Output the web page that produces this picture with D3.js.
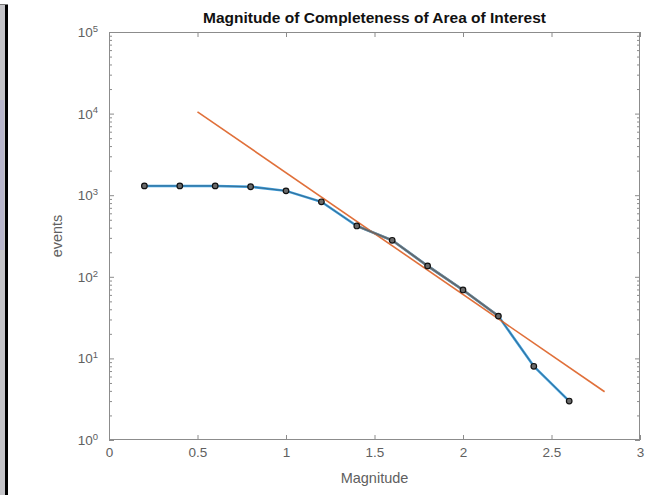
<!DOCTYPE html>
<html><head><meta charset="utf-8">
<script src="https://cdn.jsdelivr.net/npm/d3@7"></script>
<style>
body{margin:0;background:#fff;overflow:hidden}
svg{display:block}
text{font-family:"Liberation Sans",Arial,Helvetica,sans-serif}
</style>
</head><body>
<svg id="chart" width="666" height="495"></svg>
<script>
// ---- data ----
const magnitudes = [0.2, 0.4, 0.6, 0.8, 1.0, 1.2, 1.4, 1.6, 1.8, 2.0, 2.2, 2.4, 2.6];
const events     = [1300, 1300, 1300, 1270, 1130, 830, 420, 280, 136, 69, 33, 8, 3];
const fitMagnitudes = [0.5, 2.8];
const fitEvents     = [10500, 3.9];
const fitRange = [1.4, 2.2];
const xTicks = [0, 0.5, 1, 1.5, 2, 2.5, 3];
const xTickLabels = ["0", "0.5", "1", "1.5", "2", "2.5", "3"];
const yExponents = [0, 1, 2, 3, 4, 5];
const titleText = "Magnitude of Completeness of Area of Interest";
const xLabelText = "Magnitude";
const yLabelText = "events";

// ---- layout ----
const L = 109, R = 640, T = 32, B = 440;
const svg = d3.select("#chart");
const axisCol = "#8c8c8c", textCol = "#606060";

// left frame border (screenshot edge)
svg.append("rect").attr("x", 0).attr("y", 4).attr("width", 5).attr("height", 491).attr("fill", "#c4c4c8");
svg.append("rect").attr("x", 0).attr("y", 100).attr("width", 4).attr("height", 150).attr("fill", "#b8b6cc");
svg.append("rect").attr("x", 5).attr("y", 4).attr("width", 3).attr("height", 491).attr("fill", "#000");
svg.append("line").attr("x1", 0).attr("x2", 8).attr("y1", 4.5).attr("y2", 4.5).attr("stroke", "#777");

const x = d3.scaleLinear().domain([0, 3]).range([L, R]);
const y = d3.scaleLog().domain([1, 1e5]).range([B, T]);

const yMajor = yExponents.map(e => Math.pow(10, e));
const yMinor = [];
yExponents.slice(0, -1).forEach(e => { for (let k = 2; k <= 9; k++) yMinor.push(k * Math.pow(10, e)); });

function styleAxis(g) {
  g.select(".domain").remove();
  g.selectAll(".tick line").attr("stroke", axisCol);
  g.selectAll(".tick text").attr("fill", textCol);
}

// bottom axis
const gx = svg.append("g").attr("transform", `translate(0,${B})`)
  .call(d3.axisBottom(x).tickValues(xTicks).tickFormat((d, i) => xTickLabels[i]).tickSize(-5).tickPadding(7))
  .attr("font-size", 13.5).attr("font-family", null);
styleAxis(gx);
// top axis
const gxt = svg.append("g").attr("transform", `translate(0,${T})`)
  .call(d3.axisTop(x).tickValues(xTicks).tickFormat("").tickSize(-5));
styleAxis(gxt);

// left axis major
const gy = svg.append("g").attr("transform", `translate(${L},0)`)
  .call(d3.axisLeft(y).tickValues(yMajor).tickFormat("").tickSize(-5).tickPadding(11))
  .attr("font-size", 13.5).attr("font-family", null);
styleAxis(gy);
gy.selectAll(".tick").each(function(d, i) {
  const t = d3.select(this).append("text")
    .attr("x", -11).attr("dy", "0.34em").attr("text-anchor", "end").attr("fill", textCol);
  t.append("tspan").text("10");
  t.append("tspan").attr("font-size", 9.5).attr("dy", "-0.55em").text(String(yExponents[i]));
});
const gym = svg.append("g").attr("transform", `translate(${L},0)`)
  .call(d3.axisLeft(y).tickValues(yMinor).tickFormat("").tickSize(-3));
styleAxis(gym);
// right axis
const gyr = svg.append("g").attr("transform", `translate(${R},0)`)
  .call(d3.axisRight(y).tickValues(yMajor).tickFormat("").tickSize(-5));
styleAxis(gyr);
const gyrm = svg.append("g").attr("transform", `translate(${R},0)`)
  .call(d3.axisRight(y).tickValues(yMinor).tickFormat("").tickSize(-3));
styleAxis(gyrm);

// box
svg.append("rect").attr("x", L + 0.5).attr("y", T + 0.5).attr("width", R - L - 1).attr("height", B - T - 1)
  .attr("fill", "none").attr("stroke", axisCol).attr("stroke-width", 1);

// data
const pts = magnitudes.map((m, i) => ({ m, n: events[i] }));
const line = d3.line().x(d => x(d.m)).y(d => y(d.n));

svg.append("path").datum(pts).attr("d", line)
  .attr("fill", "none").attr("stroke", "#3a9ad9").attr("stroke-width", 2.5);

const fitPts = fitMagnitudes.map((m, i) => ({ m, n: fitEvents[i] }));
svg.append("path").datum(fitPts).attr("d", line)
  .attr("fill", "none").attr("stroke", "#e0703a").attr("stroke-width", 1.6);

const rangePts = pts.filter(d => d.m >= fitRange[0] - 1e-9 && d.m <= fitRange[1] + 1e-9);
svg.append("path").datum(rangePts).attr("d", line)
  .attr("fill", "none").attr("stroke", "#7a7a7a").attr("stroke-width", 2.5).attr("stroke-opacity", 0.85);

svg.append("path").datum(pts).attr("d", line)
  .attr("fill", "none").attr("stroke", "#333").attr("stroke-width", 0.7).attr("stroke-opacity", 0.6);

svg.append("g").selectAll("circle").data(pts).join("circle")
  .attr("cx", d => x(d.m)).attr("cy", d => y(d.n)).attr("r", 2.8)
  .attr("fill", "#6a6a6a").attr("stroke", "#111").attr("stroke-width", 1.2);

// labels
svg.append("text").attr("x", (L + R) / 2).attr("y", 23).attr("text-anchor", "middle")
  .attr("font-size", 15.5).attr("font-weight", "bold").attr("fill", "#111").text(titleText);
svg.append("text").attr("x", (L + R) / 2).attr("y", 483).attr("text-anchor", "middle")
  .attr("font-size", 14.5).attr("fill", textCol).text(xLabelText);
svg.append("text").attr("transform", `translate(62,${(T + B) / 2}) rotate(-90)`).attr("text-anchor", "middle")
  .attr("font-size", 14.5).attr("fill", textCol).text(yLabelText);
</script>
</body></html>
